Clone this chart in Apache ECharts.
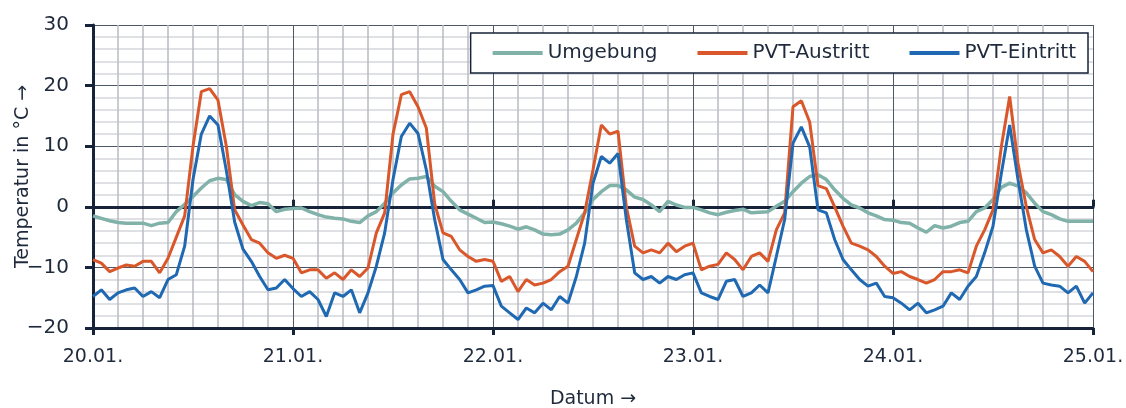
<!DOCTYPE html>
<html><head><meta charset="utf-8">
<script src="https://cdn.jsdelivr.net/npm/echarts@6/dist/echarts.min.js"></script>
<style>html,body{margin:0;padding:0;background:#fff}#c{width:1126px;height:408px}</style>
</head><body><div id="c"></div>
<script>
// x in hours since 20.01. 00:00, hourly values
const dayLabels = ['20.01.','21.01.','22.01.','23.01.','24.01.','25.01.'];
const seriesNames = ['Umgebung','PVT-Austritt','PVT-Eintritt'];

const umgebung = [
  -1.5,-1.9,-2.3,-2.6,-2.7,-2.7,-2.7,-3.1,-2.7,-2.6,-0.8,0.4,1.7,3.1,4.3,4.7,4.5,2.0,0.9,0.2,0.7,0.5,-0.8,-0.4,
  -0.3,-0.2,-0.8,-1.3,-1.7,-1.9,-2.0,-2.4,-2.6,-1.5,-0.8,0.6,2.3,3.6,4.6,4.7,5.0,3.4,2.5,0.9,-0.5,-1.2,-1.9,-2.6,
  -2.5,-2.8,-3.2,-3.7,-3.3,-3.8,-4.5,-4.6,-4.5,-3.8,-2.7,-1.0,1.2,2.5,3.5,3.5,2.8,1.6,1.2,0.3,-0.8,0.9,0.3,-0.1,
  -0.1,-0.5,-1.0,-1.3,-0.9,-0.6,-0.4,-1.0,-0.9,-0.8,0.1,0.9,2.5,3.9,5.0,5.3,4.5,2.8,1.4,0.3,-0.2,-1.0,-1.5,-2.1,
  -2.2,-2.6,-2.7,-3.5,-4.2,-3.1,-3.5,-3.2,-2.6,-2.4,-0.8,-0.2,1.2,3.2,3.9,3.4,2.3,0.6,-0.8,-1.3,-2.0,-2.4,-2.4,-2.4,
  -2.4
];
const austritt = [
  -8.7,-9.3,-10.7,-10.1,-9.6,-9.8,-9.0,-9.0,-10.9,-8.5,-5.0,-1.5,10.0,19.0,19.5,17.6,10.0,-0.5,-3.0,-5.4,-6.0,-7.6,-8.5,-8.0,
  -8.5,-10.9,-10.4,-10.4,-11.8,-10.9,-12.0,-10.4,-11.5,-10.1,-4.3,-1.0,12.0,18.5,19.0,16.5,13.0,0.5,-4.3,-4.9,-7.1,-8.2,-9.0,-8.7,
  -9.0,-12.3,-11.5,-14.0,-12.0,-12.9,-12.6,-12.0,-10.7,-9.8,-5.4,-1.0,6.1,13.5,12.0,12.5,0.0,-6.5,-7.6,-7.1,-7.6,-6.0,-7.4,-6.5,
  -6.0,-10.4,-9.8,-9.5,-7.6,-8.7,-10.4,-8.2,-7.6,-9.0,-3.8,-1.0,16.5,17.5,14.0,3.5,3.0,0.0,-3.2,-6.0,-6.5,-7.1,-8.2,-9.8,
  -11.0,-10.7,-11.5,-12.0,-12.6,-12.0,-10.7,-10.7,-10.4,-10.9,-6.5,-3.8,-0.5,9.9,18.2,7.2,0.0,-5.4,-7.6,-7.1,-8.2,-9.8,-8.2,-9.0,
  -10.7
];
const eintritt = [
  -14.8,-13.7,-15.3,-14.2,-13.7,-13.4,-14.8,-14.0,-15.0,-12.0,-11.2,-6.5,4.5,12.0,15.0,13.5,6.0,-2.5,-7.0,-9.0,-11.5,-13.7,-13.4,-12.0,
  -13.5,-14.8,-14.0,-15.3,-18.1,-14.2,-14.8,-13.7,-17.5,-14.2,-9.8,-4.3,4.5,11.6,13.8,12.1,6.1,-2.1,-8.7,-10.4,-12.0,-14.2,-13.7,-13.1,
  -13.0,-16.4,-17.5,-18.6,-16.7,-17.5,-15.9,-17.0,-14.8,-15.9,-11.5,-6.0,3.9,8.3,7.2,8.8,-2.1,-10.9,-12.0,-11.5,-12.6,-11.5,-12.0,-11.2,
  -10.9,-14.2,-14.8,-15.3,-12.3,-12.0,-14.8,-14.2,-12.9,-14.2,-8.2,-2.1,10.5,13.2,9.9,-0.5,-1.0,-5.4,-8.7,-10.4,-12.0,-13.1,-12.6,-14.8,
  -15.0,-15.9,-17.0,-15.9,-17.5,-17.0,-16.4,-14.2,-15.3,-13.1,-11.5,-7.6,-3.2,5.5,13.5,4.5,-3.8,-9.8,-12.6,-12.9,-13.1,-14.2,-13.1,-15.9,
  -14.2
];

const TXT = '#1e2a3b', AX = '#16233a', MAJ = '#4d5766';
const MINX = '#b9bcc4', MINY = '#d3d6dc';
const FONT = 'DejaVu Sans';
const toXY = arr => arr.map((v, i) => [i, v]);
const hoursTotal = (dayLabels.length - 1) * 24;

const chart = echarts.init(document.getElementById('c'), null, {renderer: 'canvas'});
const zeroAxis = (inside) => ({
  type: 'value', min: 0, max: hoursTotal, interval: 24, position: 'bottom',
  axisLine: {show: true, onZero: true, lineStyle: {color: AX, width: 3}},
  axisTick: {show: true, inside: inside, length: 7, lineStyle: {color: AX, width: 3}},
  axisLabel: {show: false}, splitLine: {show: false}
});
chart.setOption({
  animation: false,
  textStyle: {fontFamily: FONT, color: TXT},
  grid: {left: 93, right: 33, top: 25, bottom: 80, outerBoundsMode: 'none', containLabel: false},
  legend: {
    data: seriesNames, right: 38, top: 33, icon: 'rect',
    borderColor: AX, borderWidth: 1.5, backgroundColor: '#fff',
    padding: [10, 12, 10, 22], itemWidth: 50, itemHeight: 4, itemGap: 40,
    textStyle: {fontFamily: FONT, fontSize: 20, color: TXT}
  },
  xAxis: [
    {
      type: 'value', min: 0, max: hoursTotal, interval: 24,
      name: 'Datum \u2192', nameLocation: 'middle', nameGap: 62, nameMoveOverlap: false,
      nameTextStyle: {fontFamily: FONT, fontSize: 19, color: TXT},
      axisLine: {show: false, onZero: false},
      axisTick: {show: false},
      axisLabel: {fontFamily: FONT, fontSize: 19, color: TXT, margin: 20,
        formatter: v => dayLabels[Math.round(v / 24)]},
      splitLine: {show: true, lineStyle: {color: MAJ, width: 1}},
      minorTick: {show: false, splitNumber: 8},
      minorSplitLine: {show: true, lineStyle: {color: MINX, width: 1.5}}
    },
    zeroAxis(true),
    zeroAxis(false)
  ],
  yAxis: {
    type: 'value', min: -20, max: 30, interval: 10,
    name: 'Temperatur in \u00b0C \u2192', nameLocation: 'middle', nameGap: 60, nameRotate: 90,
    nameMoveOverlap: false,
    nameTextStyle: {fontFamily: FONT, fontSize: 19, color: TXT},
    axisLine: {show: true, onZero: false, lineStyle: {color: AX, width: 3}},
    axisTick: {show: true, length: 8, lineStyle: {color: AX, width: 3}},
    axisLabel: {fontFamily: FONT, fontSize: 20, color: TXT, margin: 24,
      formatter: v => String(v).replace('-', '\u2212')},
    splitLine: {show: true, lineStyle: {color: MAJ, width: 1.2}},
    minorTick: {show: false, splitNumber: 5},
    minorSplitLine: {show: true, lineStyle: {color: MINY, width: 1.5}}
  },
  series: [
    {name: seriesNames[0], type: 'line', data: toXY(umgebung), showSymbol: false, symbol: 'none',
     color: '#80b2a9', lineStyle: {width: 3.5}},
    {name: seriesNames[1], type: 'line', data: toXY(austritt), showSymbol: false, symbol: 'none',
     color: '#d9572a', lineStyle: {width: 3}},
    {name: seriesNames[2], type: 'line', data: toXY(eintritt), showSymbol: false, symbol: 'none',
     color: '#1f68b2', lineStyle: {width: 3}}
  ]
});
</script></body></html>
